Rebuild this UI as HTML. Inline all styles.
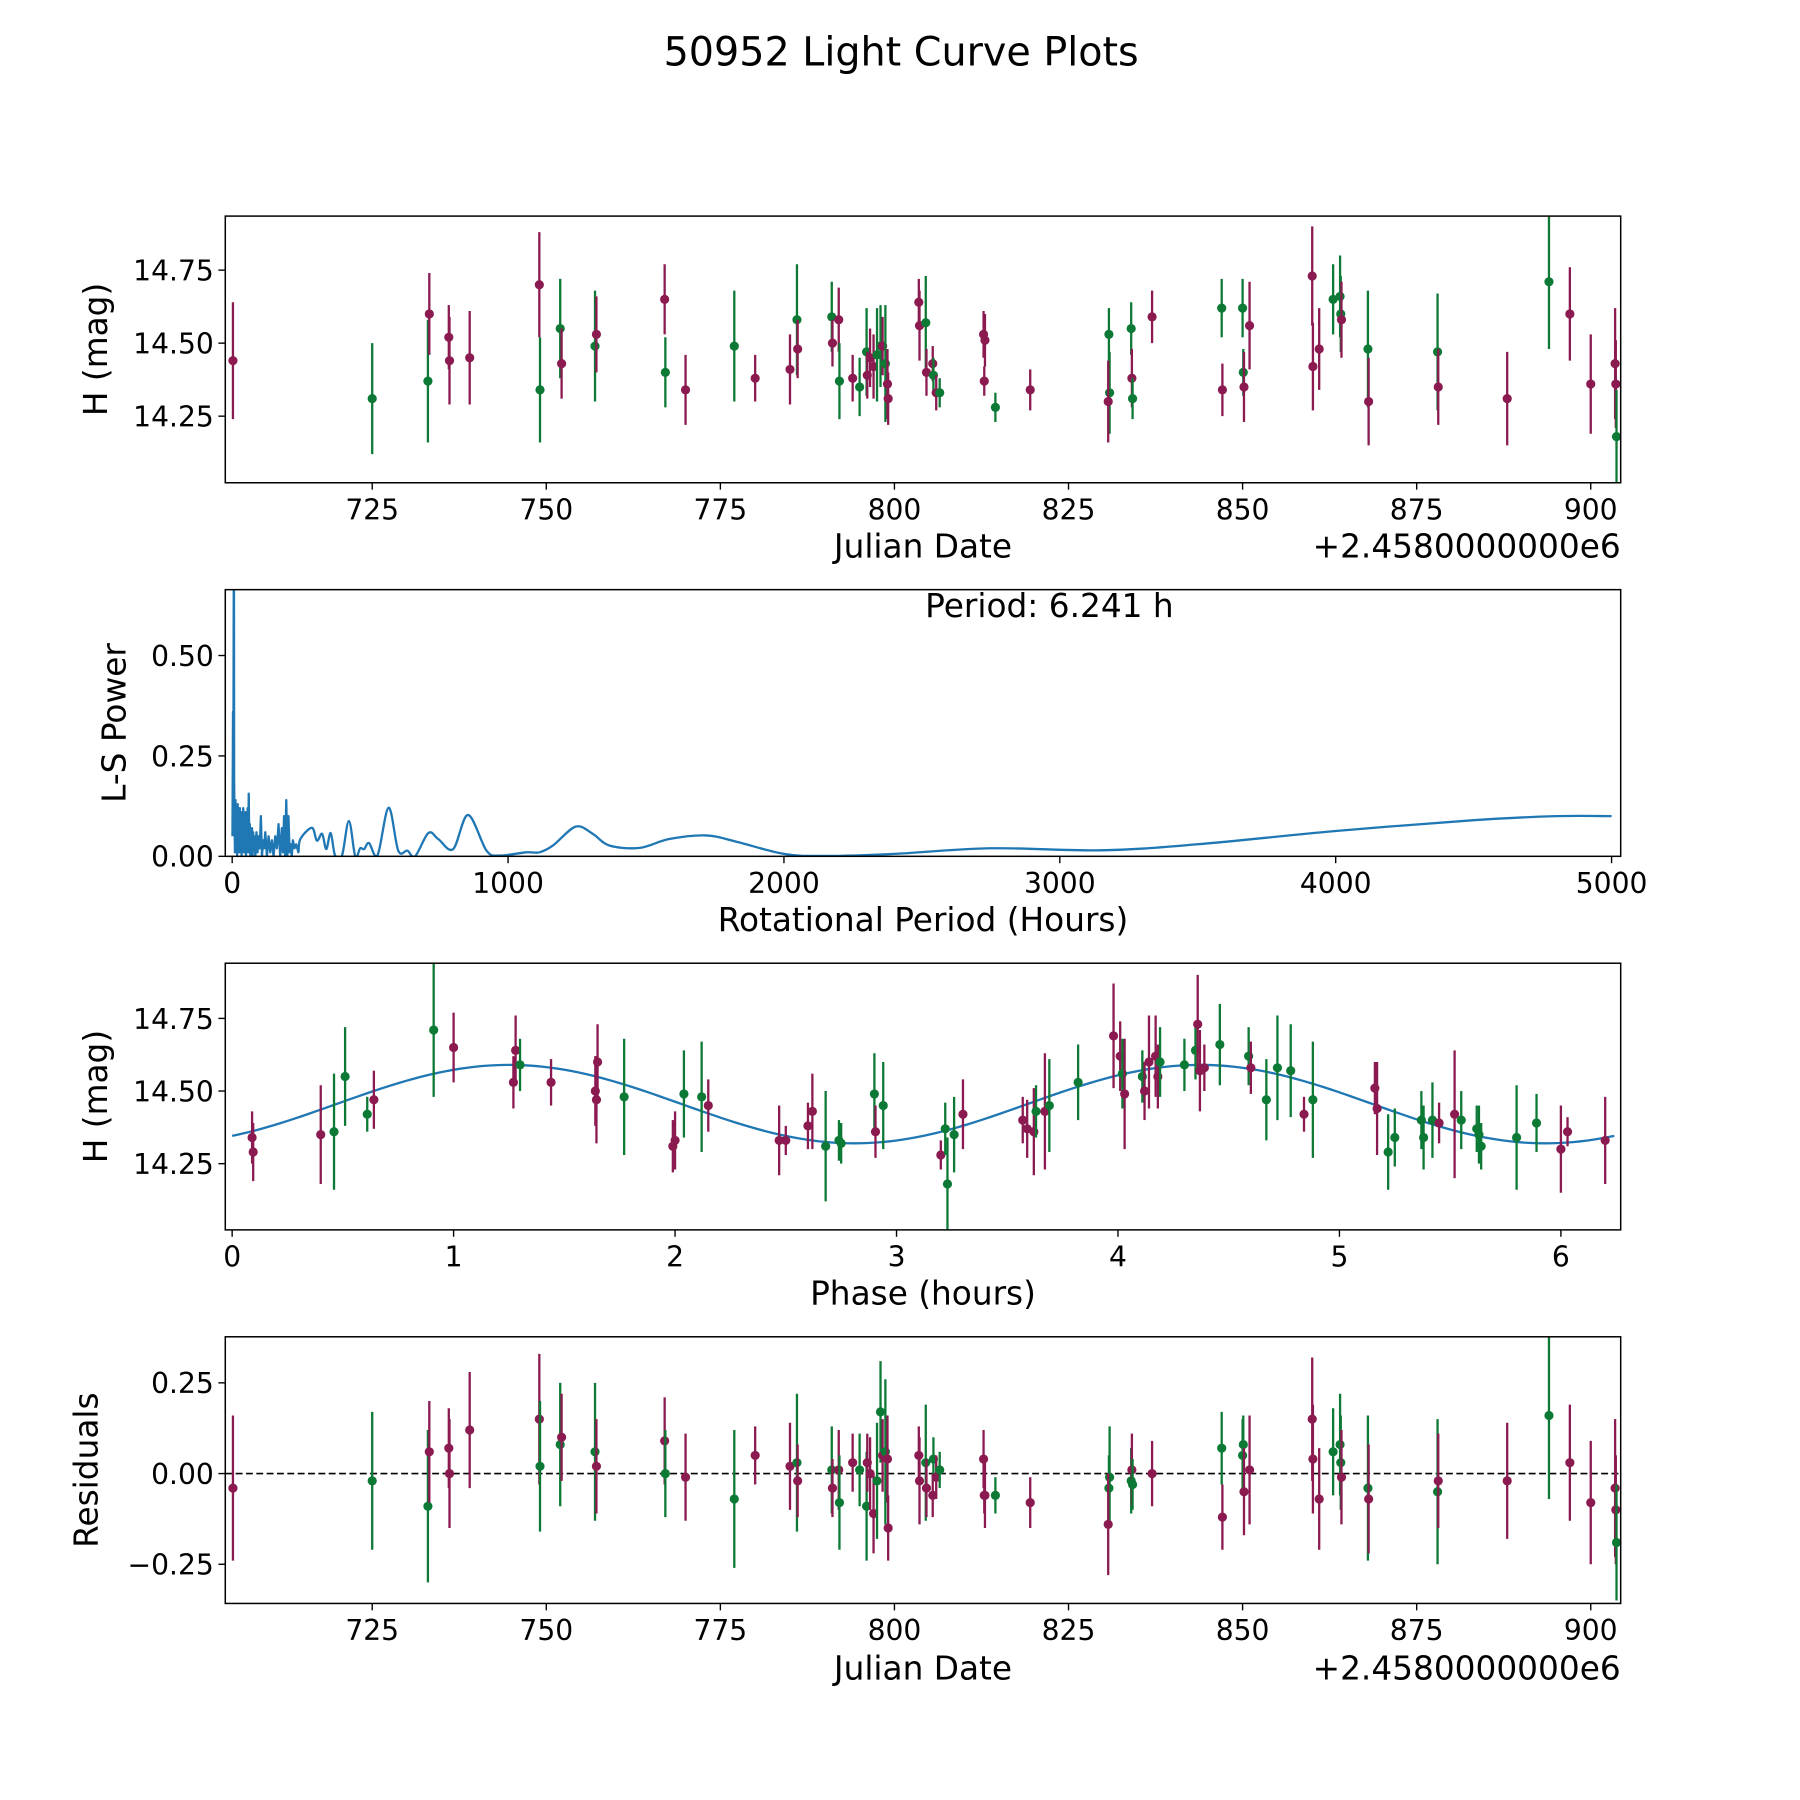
<!DOCTYPE html>
<html><head><meta charset="utf-8"><style>
html,body{margin:0;padding:0;background:#fff}
svg{display:block}
text{font-family:"DejaVu Sans","Liberation Sans",sans-serif;fill:#000}
</style></head><body>
<svg id="fig" width="1800" height="1800" viewBox="0 0 1566 1566" xmlns="http://www.w3.org/2000/svg">
<rect width="1566" height="1566" fill="#fff"/>
<text x="784" y="57" font-size="34.5" text-anchor="middle">50952 Light Curve Plots</text>
<g id="root"></g>
</svg>
<script>
// ---------- data ----------
const jd = [705,725,733,733.2,736,736.1,739,749,749.1,752,752.2,757,757.2,767,767.1,770,777,780,785,786,786.1,791,791.1,792,792.1,794,795,796,796.1,796.5,797,797.5,798,798.3,798.7,799,799.1,803.5,803.6,804.5,804.6,805.5,805.6,806,806.5,812.8,813,812.9,814.5,819.5,830.8,830.9,830.7,834,834.1,834.2,837,847,847.1,850,850.1,850.2,851,860,860.1,861,863,864,864.1,864.2,868,868.1,878,878.1,888,894,897,900,903.5,903.6,903.7];
const mags = [14.44,14.31,14.37,14.60,14.52,14.44,14.45,14.70,14.34,14.55,14.43,14.49,14.53,14.65,14.40,14.34,14.49,14.38,14.41,14.58,14.48,14.59,14.50,14.58,14.37,14.38,14.35,14.47,14.39,14.45,14.42,14.46,14.49,14.49,14.43,14.36,14.31,14.64,14.56,14.57,14.40,14.43,14.39,14.33,14.33,14.53,14.51,14.37,14.28,14.34,14.53,14.33,14.30,14.55,14.38,14.31,14.59,14.62,14.34,14.62,14.40,14.35,14.56,14.73,14.42,14.48,14.65,14.66,14.60,14.58,14.48,14.30,14.47,14.35,14.31,14.71,14.60,14.36,14.43,14.36,14.18];
const errs = [0.2,0.19,0.21,0.14,0.11,0.15,0.16,0.18,0.18,0.17,0.12,0.19,0.13,0.12,0.12,0.12,0.19,0.08,0.12,0.19,0.1,0.12,0.08,0.11,0.13,0.08,0.1,0.15,0.08,0.1,0.11,0.16,0.14,0.1,0.2,0.12,0.09,0.08,0.12,0.16,0.08,0.06,0.06,0.06,0.05,0.08,0.09,0.05,0.05,0.07,0.09,0.14,0.14,0.09,0.1,0.07,0.09,0.1,0.09,0.1,0.08,0.12,0.15,0.17,0.15,0.14,0.12,0.14,0.13,0.13,0.2,0.15,0.2,0.13,0.16,0.23,0.16,0.17,0.19,0.15,0.16];
const bands = "mggmmmmmggmgmmgmgmmgmgmmgmggmmmggmgmmmmgmmgmgmmmgmggmgmgmgmggmmmmmgggsgmgmmgmmmmg".split("");
const resid = [-0.04,-0.02,-0.09,0.06,0.07,0.0,0.12,0.15,0.02,0.08,0.10,0.06,0.02,0.09,0.0,-0.01,-0.07,0.05,0.02,0.03,-0.02,0.01,-0.04,0.01,-0.08,0.03,0.01,-0.09,0.03,0.0,-0.11,-0.02,0.17,0.05,0.06,0.04,-0.15,0.05,-0.02,0.03,-0.04,-0.06,0.04,-0.01,0.01,0.04,-0.06,-0.06,-0.06,-0.08,-0.04,-0.01,-0.14,-0.02,0.01,-0.03,0.0,0.07,-0.12,0.05,0.08,-0.05,0.01,0.15,0.04,-0.07,0.06,0.08,0.03,-0.01,-0.04,-0.07,-0.05,-0.02,-0.02,0.16,0.03,-0.08,-0.04,-0.10,-0.19];

const phase = [0.09,0.095,0.4,0.46,0.51,0.61,0.64,0.91,1.0,1.27,1.28,1.3,1.44,1.64,1.645,1.65,1.77,1.99,2.0,2.04,2.12,2.15,2.47,2.5,2.6,2.62,2.68,2.74,2.75,2.9,2.905,2.94,3.2,3.22,3.23,3.26,3.3,3.57,3.59,3.62,3.63,3.67,3.69,3.82,3.98,4.01,4.02,4.03,4.11,4.12,4.14,4.17,4.18,4.19,4.3,4.35,4.36,4.37,4.39,4.46,4.59,4.6,4.67,4.72,4.78,4.84,4.88,5.16,5.17,5.22,5.25,5.37,5.38,5.42,5.45,5.52,5.55,5.62,5.63,5.64,5.8,5.89,6.0,6.03,6.2];
const phaseMag = [14.34,14.29,14.35,14.36,14.55,14.42,14.47,14.71,14.65,14.53,14.64,14.59,14.53,14.50,14.47,14.60,14.48,14.31,14.33,14.49,14.48,14.45,14.33,14.33,14.38,14.43,14.31,14.33,14.32,14.49,14.36,14.45,14.28,14.37,14.18,14.35,14.42,14.40,14.37,14.36,14.43,14.43,14.45,14.53,14.69,14.62,14.56,14.49,14.55,14.50,14.60,14.62,14.55,14.60,14.59,14.64,14.73,14.57,14.58,14.66,14.62,14.58,14.47,14.58,14.57,14.42,14.47,14.51,14.44,14.29,14.34,14.40,14.34,14.40,14.39,14.42,14.40,14.37,14.35,14.31,14.34,14.39,14.30,14.36,14.33];
const phaseErr = [0.09,0.1,0.17,0.2,0.17,0.06,0.1,0.23,0.12,0.09,0.12,0.09,0.08,0.12,0.15,0.13,0.2,0.09,0.1,0.15,0.19,0.09,0.12,0.05,0.08,0.13,0.19,0.07,0.07,0.14,0.09,0.15,0.05,0.09,0.16,0.13,0.12,0.08,0.1,0.15,0.09,0.2,0.16,0.13,0.18,0.12,0.12,0.19,0.09,0.1,0.16,0.14,0.11,0.12,0.09,0.1,0.17,0.14,0.08,0.14,0.1,0.09,0.14,0.18,0.16,0.06,0.2,0.09,0.16,0.13,0.1,0.1,0.11,0.13,0.07,0.22,0.1,0.08,0.1,0.08,0.18,0.1,0.15,0.05,0.15];
const phaseBand = "mmmgggmgmmmgmmmmgmmggmmmmmggggmgmgggmmmmgmggmmgmgmmmmgggmmmggmgggmgmmgggggmmggggggmmmgmmmg".split("");
// fit model parameters: mean, amplitude, fit period (h), phase offset (h)
const modelParams = [14.455, 0.135, 3.1205, 0.47];

const lsPeriod = [1,3,4,5.5,6.24,7,8,
 10,12,14,16,18,20,22,24,26,28,30,32,34,36,38,40,42,44,46,48,50,52,54,56,58,60,62,64,66,68,70,72,74,76,78,80,
 84,88,92,96,100,104,108,112,116,120,
 126,132,138,144,150,156,162,168,174,180,
 184,188,192,196,200,204,208,212,216,220,
 226,232,240,
 247,289,307,326,341,357,373,398,423,446,464,478,496,527,567,602,635,663,711,747,801,855,922,970,1066,1114,1163,1245,1307,1367,1476,1584,1717,1825,2000,2150,2400,2750,3150,3500,4000,4500,4800,5000];
const lsPower = [0.05,0.36,0.1,0.62,0.9,0.2,0.12,
 0.01,0.14,0.02,0.11,0.0,0.13,0.03,0.1,0.01,0.12,0.02,0.11,0.0,0.1,0.03,0.12,0.01,0.1,0.02,0.11,0.0,0.09,0.02,0.12,0.01,0.156,0.02,0.08,0.0,0.05,0.01,0.07,0.0,0.06,0.02,0.05,
 0.0,0.06,0.01,0.05,0.02,0.1,0.0,0.04,0.02,0.06,
 0.0,0.05,0.01,0.04,0.0,0.05,0.02,0.08,0.0,0.07,
 0.01,0.1,0.0,0.14,0.0,0.1,0.01,0.03,0.0,0.04,
 0.02,0.03,0.01,
 0.043,0.071,0.039,0.056,0.018,0.058,0.002,0.002,0.088,0.0,0.02,0.018,0.033,0.003,0.121,0.014,0.014,0.0,0.058,0.043,0.018,0.103,0.014,0.002,0.01,0.01,0.027,0.074,0.056,0.027,0.021,0.043,0.052,0.037,0.006,0.001,0.006,0.02,0.015,0.03,0.063,0.09,0.1,0.1];

const jdTicks = [725,750,775,800,825,850,875,900];
const magTicks = [14.25,14.50,14.75];
const lsXTicks = [0,1000,2000,3000,4000,5000];
const lsYTicks = [0.00,0.25,0.50];
const phaseTicks = [0,1,2,3,4,5,6];
const residTicks = [-0.25,0.00,0.25];

// ---------- drawing ----------
const NS="http://www.w3.org/2000/svg";
const root=document.getElementById('root');
const COL={m:'#8b1a50',g:'#0c7a35'};
function mk(tag,attrs,parent){const e=document.createElementNS(NS,tag);for(const k in attrs)e.setAttribute(k,attrs[k]);(parent||root).appendChild(e);return e;}
let clipN=0;
function axes(name,L,T,W,H,x0,x1,y0,y1){
  const g=mk('g',{});
  
  
  const id='clip'+(clipN++);
  const cp=mk('clipPath',{id:id},g);mk('rect',{x:L,y:T,width:W,height:H},cp);
  const plot=mk('g',{'clip-path':'url(#'+id+')'},g);
  return {g,plot,L,T,W,H,
    sx:v=>L+(v-x0)/(x1-x0)*W, sy:v=>T+H-(v-y0)/(y1-y0)*H};
}
function frame(a){
  const r=mk('rect',{x:a.L,y:a.T,width:a.W,height:a.H,fill:'none',stroke:'#000','stroke-width':1.3},a.g);
  
  
}
function xticks(a,ticks,fmt){
  ticks.forEach(t=>{const x=a.sx(t);
    mk('line',{x1:x,x2:x,y1:a.T+a.H,y2:a.T+a.H+6,stroke:'#000','stroke-width':1.2},a.g);
    const tx=mk('text',{x:x,y:a.T+a.H+32,'font-size':24.5,'text-anchor':'middle'},a.g);
    tx.textContent=fmt(t);
    
    
  });
}
function yticks(a,ticks,fmt){
  ticks.forEach(t=>{const y=a.sy(t);
    mk('line',{x1:a.L-6,x2:a.L,y1:y,y2:y,stroke:'#000','stroke-width':1.2},a.g);
    const tx=mk('text',{x:a.L-10,y:y+9,'font-size':24.5,'text-anchor':'end'},a.g);
    tx.textContent=fmt(t);
    
    
  });
}
function label(a,txt,x,y,rot,name,anchor){
  const t=mk('text',{x:x,y:y,'font-size':28.5,'text-anchor':anchor||'middle'},a.g);
  if(rot)t.setAttribute('transform','rotate(-90 '+x+' '+y+')');
  t.textContent=txt;
  
  
}
function errpts(a,xs,ys,es,bs,name){
  const n=Math.min(xs.length,ys.length,es.length);
  for(let i=0;i<n;i++){const c=COL[bs[i]]||COL.m;const x=a.sx(xs[i]);
    const l=mk('line',{x1:x,x2:x,y1:a.sy(ys[i]-es[i]),y2:a.sy(ys[i]+es[i]),stroke:c,'stroke-width':2},a.plot);
    
    
    const p=mk('circle',{cx:x,cy:a.sy(ys[i]),r:4,fill:c},a.plot);
    
    
  }
}
const fmt2=v=>v.toFixed(2).replace('-','\u2212');
// Panel 1
const a1=axes('light-curve-panel',196,188,1214,232,703.9,904.3,14.022,14.935);
errpts(a1,jd,mags,errs,bands,'observation');
frame(a1);xticks(a1,jdTicks,String);yticks(a1,magTicks,fmt2);
label(a1,'Julian Date',803,485,false,'x-axis-title');
label(a1,'+2.4580000000e6',1410,485,false,'x-offset-text','end');
label(a1,'H (mag)',93,304,true,'y-axis-title');
// Panel 2
const a2=axes('periodogram-panel',196,513,1214,232,-25,5033,0,0.664);
const n2=Math.min(lsPeriod.length,lsPower.length);
const P=[];for(let i=0;i<n2;i++)P.push([a2.sx(lsPeriod[i]),a2.sy(lsPower[i])]);
let d='M'+P[0][0].toFixed(2)+' '+P[0][1].toFixed(2);
for(let i=0;i<n2-1;i++){
  const p0=P[Math.max(0,i-1)],p1=P[i],p2=P[i+1],p3=P[Math.min(n2-1,i+2)];
  if(lsPeriod[i]<240){d+='L'+p2[0].toFixed(2)+' '+p2[1].toFixed(2);continue;}
  const c1x=p1[0]+(p2[0]-p0[0])/6,c1y=p1[1]+(p2[1]-p0[1])/6;
  const c2x=p2[0]-(p3[0]-p1[0])/6,c2y=p2[1]-(p3[1]-p1[1])/6;
  d+='C'+c1x.toFixed(2)+' '+c1y.toFixed(2)+' '+c2x.toFixed(2)+' '+c2y.toFixed(2)+' '+p2[0].toFixed(2)+' '+p2[1].toFixed(2);
}
const pl=mk('path',{d:d,fill:'none',stroke:'#1f77b4','stroke-width':2,'stroke-linejoin':'round'},a2.plot);


frame(a2);xticks(a2,lsXTicks,String);yticks(a2,lsYTicks,fmt2);
label(a2,'Rotational Period (Hours)',803,810,false,'x-axis-title');
label(a2,'L-S Power',109,629,true,'y-axis-title');
label(a2,'Period: 6.241 h',913,537,false,'period-annotation');
// Panel 3
const a3=axes('phase-folded-panel',196,838,1214,232,-0.031,6.27,14.022,14.94);
let dm='';for(let i=0;i<=200;i++){const p=6.241*i/200;const v=modelParams[0]+modelParams[1]*Math.sin(2*Math.PI*(p-modelParams[3])/modelParams[2]);dm+=(i?'L':'M')+a3.sx(p).toFixed(2)+' '+a3.sy(v).toFixed(2);}
const ml=mk('path',{d:dm,fill:'none',stroke:'#1f77b4','stroke-width':2},a3.plot);


errpts(a3,phase,phaseMag,phaseErr,phaseBand,'phased');
frame(a3);xticks(a3,phaseTicks,String);yticks(a3,magTicks,fmt2);
label(a3,'Phase (hours)',803,1135,false,'x-axis-title');
label(a3,'H (mag)',93,954,true,'y-axis-title');
// Panel 4
const a4=axes('residuals-panel',196,1163,1214,232,703.9,904.3,-0.358,0.377);
const zl=mk('line',{x1:a4.L,x2:a4.L+a4.W,y1:a4.sy(0),y2:a4.sy(0),stroke:'#000','stroke-width':1.5,'stroke-dasharray':'6,3'},a4.plot);


errpts(a4,jd,resid,errs,bands,'residual');
frame(a4);xticks(a4,jdTicks,String);yticks(a4,residTicks,fmt2);
label(a4,'Julian Date',803,1461,false,'x-axis-title');
label(a4,'+2.4580000000e6',1410,1461,false,'x-offset-text','end');
label(a4,'Residuals',85,1279,true,'y-axis-title');
</script>
</body></html>
